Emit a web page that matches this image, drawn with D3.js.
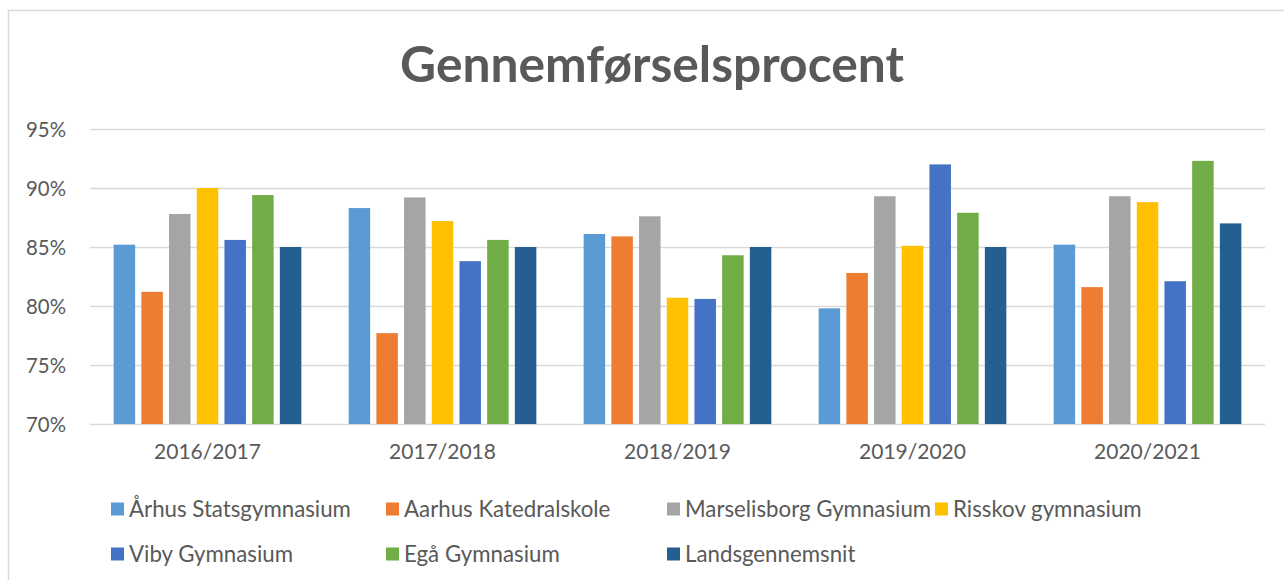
<!DOCTYPE html>
<html>
<head>
<meta charset="utf-8">
<script src="https://cdn.jsdelivr.net/npm/d3@7/dist/d3.min.js"></script>
<style>
  html, body { margin: 0; padding: 0; background: #fff; }
  svg { display: block; }
  text { font-family: Lato, "Open Sans", sans-serif; fill: #595959; }
</style>
</head>
<body>
<svg id="chart" width="1284" height="580"></svg>
<script>
const title = "Gennemførselsprocent";
const categories = ["2016/2017", "2017/2018", "2018/2019", "2019/2020", "2020/2021"];
const seriesNames = ["Århus Statsgymnasium", "Aarhus Katedralskole", "Marselisborg Gymnasium", "Risskov gymnasium", "Viby Gymnasium", "Egå Gymnasium", "Landsgennemsnit"];
const aarhusStats   = [85.2, 88.3, 86.1, 79.8, 85.2];
const aarhusKated   = [81.2, 77.7, 85.9, 82.8, 81.6];
const marselisborg  = [87.8, 89.2, 87.6, 89.3, 89.3];
const risskov       = [90.0, 87.2, 80.7, 85.1, 88.8];
const viby          = [85.6, 83.8, 80.6, 92.0, 82.1];
const egaa          = [89.4, 85.6, 84.3, 87.9, 92.3];
const landsgns      = [85.0, 85.0, 85.0, 85.0, 87.0];
const yTicks = [70, 75, 80, 85, 90, 95];
const colors = ["#5B9BD5", "#ED7D31", "#A5A5A5", "#FFC000", "#4472C4", "#70AD47", "#255E91"];

const seriesValues = [aarhusStats, aarhusKated, marselisborg, risskov, viby, egaa, landsgns];
const series = seriesNames.map((n, i) => ({ name: n, values: seriesValues[i], color: colors[i] }));

const svg = d3.select("#chart");

// chart frame
svg.append("rect").attr("x", 8.5).attr("y", 10.5).attr("width", 1400).attr("height", 700)
  .attr("fill", "#fff").attr("stroke", "#D9D9D9").attr("stroke-width", 1.5);

const plotLeft = 90, plotRight = 1265, plotTop = 129, plotBottom = 424;

const y = d3.scaleLinear().domain([70, 95]).range([plotBottom, plotTop]);
const x0 = d3.scaleBand().domain(categories).range([plotLeft, plotRight]).paddingInner(0).paddingOuter(0);
const x1 = d3.scaleBand().domain(seriesNames).range([0, x0.bandwidth()]).paddingInner(0.224).paddingOuter(0.854);

function fit(sel, target) {
  const w = sel.node().getComputedTextLength();
  const fs = parseFloat(sel.attr("font-size"));
  return fs * target / w;
}

// gridlines
const grid = d3.axisLeft(y).tickValues(yTicks).tickSize(-(plotRight - plotLeft)).tickFormat("");
svg.append("g").attr("transform", `translate(${plotLeft},0)`).call(grid)
  .call(g => g.select(".domain").remove())
  .call(g => g.selectAll("line").attr("stroke", "#D9D9D9").attr("stroke-width", 1.5));

// bars
const groups = svg.append("g").selectAll("g").data(categories).join("g")
  .attr("transform", d => `translate(${x0(d)},0)`);
groups.selectAll("rect").data((d, ci) => series.map(s => ({ s, v: s.values[ci] }))).join("rect")
  .attr("x", d => x1(d.s.name))
  .attr("width", x1.bandwidth())
  .attr("y", d => y(d.v))
  .attr("height", d => y(70) - y(d.v))
  .attr("fill", d => d.s.color);

// y axis labels
const yAxis = d3.axisLeft(y).tickValues(yTicks).tickSize(0).tickPadding(0).tickFormat(d => d + "%");
const yg = svg.append("g").attr("transform", `translate(66,0)`).call(yAxis);
yg.select(".domain").remove();
yg.selectAll("text").attr("font-size", 19).attr("fill", "#595959").attr("font-family", "Lato, sans-serif").attr("dy", "0.35em");
const ys = fit(yg.select("text"), 40);
yg.selectAll("text").attr("font-size", ys);

// x axis labels
const xAxis = d3.axisBottom(x0).tickSize(0).tickPadding(0);
const xg = svg.append("g").attr("transform", `translate(0,444)`).call(xAxis);
xg.select(".domain").remove();
xg.selectAll("text").attr("font-size", 19).attr("fill", "#595959").attr("font-family", "Lato, sans-serif").attr("dy", "0.71em");
const xs = fit(xg.select("text"), 107);
xg.selectAll("text").attr("font-size", xs);

// title
const t = svg.append("text").attr("x", 652).attr("y", 82).attr("text-anchor", "middle")
  .attr("font-size", 44).attr("font-weight", "bold").attr("fill", "#595959").text(title);
t.attr("font-size", fit(t, 504));

// legend
const legendPos = [[111, 509], [386, 509], [667, 509], [935, 509], [111, 554], [386, 554], [667, 554]];
const lg = svg.append("g").selectAll("g").data(series).join("g")
  .attr("transform", (d, i) => `translate(${legendPos[i][0]},${legendPos[i][1]})`);
lg.append("rect").attr("x", 0).attr("y", -6.5).attr("width", 13).attr("height", 13).attr("fill", d => d.color);
const lt = lg.append("text").attr("x", 18).attr("y", 0).attr("dy", "0.35em").attr("font-size", 20).text(d => d.name);
const ls = fit(d3.select(lt.nodes()[0]), 222);
lt.attr("font-size", ls);
</script>
</body>
</html>
